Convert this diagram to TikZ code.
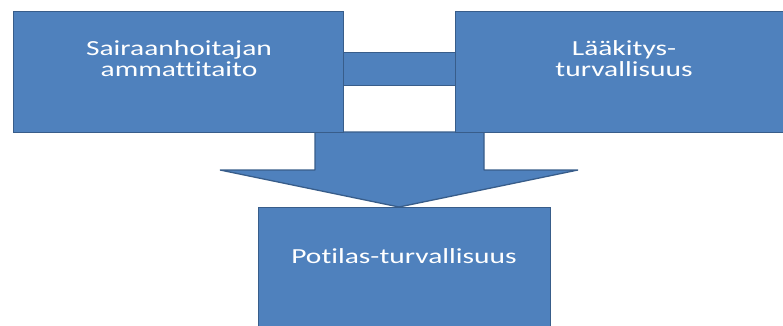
\documentclass[tikz,border=0pt]{standalone}
\usepackage{fontspec}
\newfontfamily\calfont[FakeStretch=1.37,Ligatures={NoCommon}]{Carlito}
\definecolor{boxfill}{HTML}{4F81BD}
\definecolor{boxline}{HTML}{385D8A}
\tikzset{
  box/.style={draw=boxline, fill=boxfill, line width=1.3pt, inner sep=0pt, anchor=north west},
  boxtext/.style={text=white, font=\calfont\fontsize{21.5}{21.5}\selectfont, align=center, anchor=base, inner sep=0pt}
}
\begin{document}
\begin{tikzpicture}[x=1pt,y=-1pt]
\useasboundingbox (0,0) rectangle (783,326);
\clip (0,0) rectangle (783,326);
% connector bar
\node[box, minimum width=112pt, minimum height=33pt] (bar) at (343,52) {};
% arrow
\draw[draw=boxline, fill=boxfill, line width=1.3pt, line join=bevel]
  (315,132) -- (484,132) -- (484,170) -- (578,170) -- (399,207) -- (220,170) -- (315,170) -- cycle;
% boxes
\node[box, minimum width=330pt, minimum height=121pt] (sair) at (13,11) {};
\node[box, minimum width=338pt, minimum height=121pt] (laak) at (455,11) {};
\node[box, minimum width=292pt, minimum height=140pt] (pot) at (258,207) {};
% texts
\node[boxtext] (t1) at (179,56) {Sairaanhoitajan};
\node[boxtext] (t2) at (179,77) {ammattitaito};
\node[boxtext] (t3) at (624,56) {Lääkitys-};
\node[boxtext] (t4) at (624,77) {turvallisuus};
\node[boxtext] (t5) at (404,263) {Potilas-turvallisuus};
\end{tikzpicture}
\end{document}
